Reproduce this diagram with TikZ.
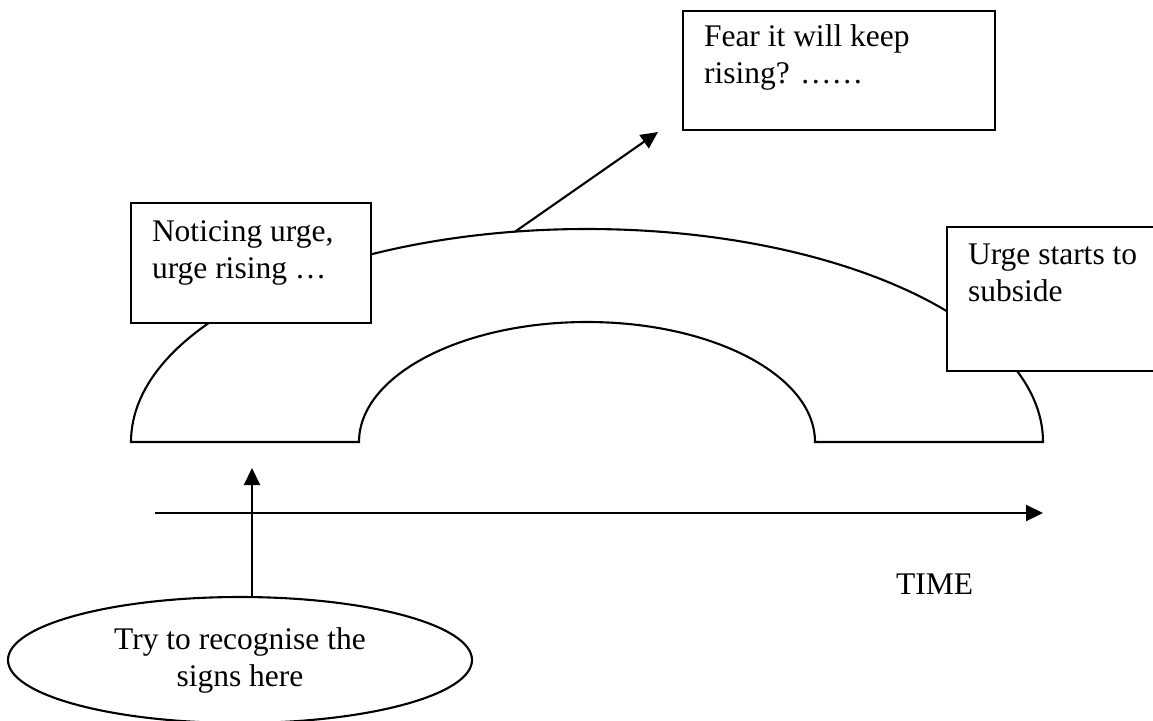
\documentclass[tikz,border=0pt]{standalone}
\usepackage{fontspec}
\setmainfont{Liberation Serif}
\usetikzlibrary{arrows.meta,shapes.geometric}
\tikzset{
  ln/.style={line width=2.1pt},
  textbox/.style={draw, line width=2.1pt, fill=white, anchor=north west,
    inner xsep=21pt, inner ysep=0pt, outer sep=0pt, align=left},
  arr/.style={line width=2.1pt, -{Triangle[length=17pt,width=16pt]}},
  oval/.style={draw, ellipse, line width=2.1pt, fill=white, align=center,
    inner xsep=0pt, inner ysep=0pt, minimum width=464pt, minimum height=126pt},
}
\newcommand\boxtxt[4]{\parbox[c][#1][t]{#2}{\raggedright\vspace*{#3}\strut #4}}
\begin{document}
\begin{tikzpicture}[x=1pt,y=1pt,font=\fontsize{31.5pt}{37pt}\selectfont]
\useasboundingbox (0,0) rectangle (1153,-720);
\clip (0,0) rectangle (1153,-720);
% urge wave shape
\draw[ln, line join=miter] (131,-442) arc[start angle=180, end angle=0, x radius=456, y radius=213]
  -- (815,-442) arc[start angle=0, end angle=180, x radius=228, y radius=120] -- cycle;
% boxes
\node[textbox] (notice) at (131,-203) {\boxtxt{120pt}{198pt}{12.4pt}{Noticing urge,\\urge rising …}};
\node[textbox] (fear) at (683,-11) {\boxtxt{119pt}{270pt}{9.4pt}{Fear it will keep\\rising? ……}};
\node[textbox] (subside) at (947,-227) {\boxtxt{144pt}{180pt}{11.4pt}{Urge starts to\\subside}};
% arrow to fear box
\coordinate (peak) at (515,-231.7);
\coordinate (feartip) at (658,-132);
\draw[arr] (peak) -- (feartip);
% time axis
\coordinate (t0) at (155,-513);
\coordinate (t1) at (1043,-513);
\draw[arr] (t0) -- (t1);
\node[anchor=base west, inner sep=0pt] (time) at (896,-594) {TIME};
% signs ellipse
\node[oval] (signs) at (240,-660) {Try to recognise the\\signs here};
\coordinate (sigtip) at (252,-468);
\draw[arr] (signs.north -| sigtip) -- (sigtip);
\end{tikzpicture}
\end{document}
